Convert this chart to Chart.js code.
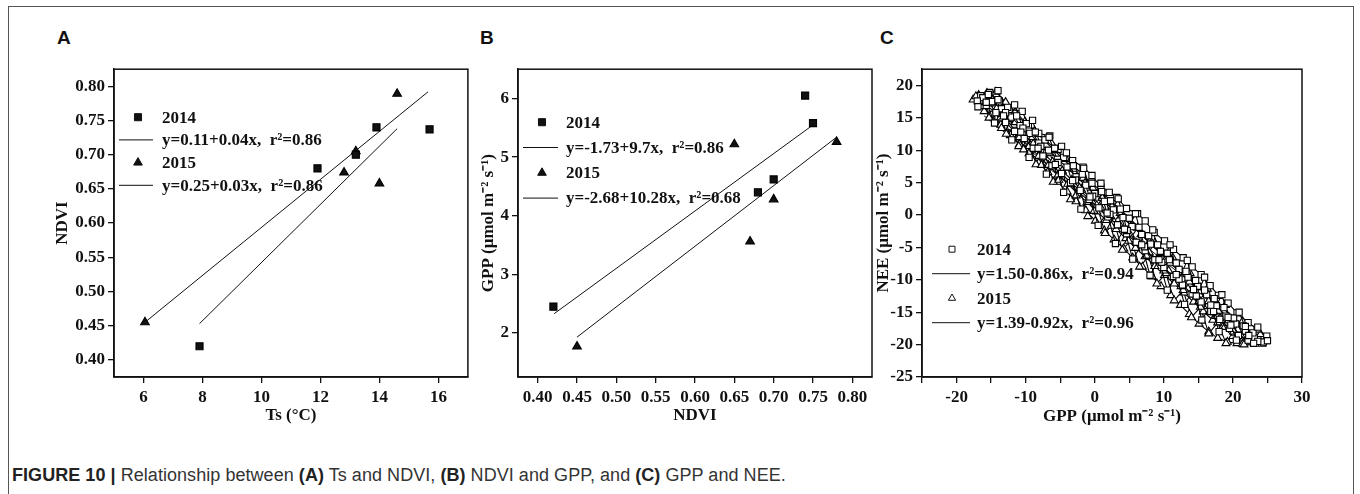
<!DOCTYPE html>
<html>
<head>
<meta charset="utf-8">
<script src="https://cdn.jsdelivr.net/npm/chart.js@4.4.1/dist/chart.umd.min.js"></script>
<style>
body{margin:0;background:#fff;width:1360px;height:494px;overflow:hidden;position:relative}
#frame{position:absolute;left:8px;top:6px;width:1344px;height:520px;border:1.5px solid #555}
.letter{position:absolute;top:27px;font:bold 19px 'Liberation Sans',Arial,sans-serif;color:#111}
canvas{position:absolute}
#caption{position:absolute;left:12px;top:465px;font:18px 'Liberation Sans',Arial,sans-serif;color:#333;white-space:nowrap;letter-spacing:0.05px}
#caption b{color:#222}
</style>
</head>
<body>
<div id="frame"></div>
<div class="letter" style="left:57px">A</div>
<div class="letter" style="left:480px">B</div>
<div class="letter" style="left:880px">C</div>
<canvas id="chartA" width="460" height="380" style="left:14px;top:56px"></canvas>
<canvas id="chartB" width="410" height="380" style="left:470px;top:56px"></canvas>
<canvas id="chartC" width="480" height="380" style="left:870px;top:56px"></canvas>
<div id="caption"><b>FIGURE 10 |</b> Relationship between <b>(A)</b> Ts and NDVI, <b>(B)</b> NDVI and GPP, and <b>(C)</b> GPP and NEE.</div>
<script>
// ---- panel A : Ts vs NDVI
const tsA2014 = [7.9, 11.9, 13.2, 13.9, 15.7]
const ndviA2014 = [0.42, 0.68, 0.70, 0.74, 0.737]
const tsA2015 = [6.05, 12.8, 13.2, 14.0, 14.6]
const ndviA2015 = [0.455, 0.674, 0.705, 0.658, 0.789]
const fitTsA2014 = [7.9, 14.6]
const fitNdviA2014 = [0.453, 0.738]
const fitTsA2015 = [6.05, 15.65]
const fitNdviA2015 = [0.455, 0.792]
const tsTicks = [6, 8, 10, 12, 14, 16]
const ndviTicksA = [0.40, 0.45, 0.50, 0.55, 0.60, 0.65, 0.70, 0.75, 0.80]
const legendA = ['2014', 'y=0.11+0.04x,  r\u00b2=0.86', '2015', 'y=0.25+0.03x,  r\u00b2=0.86']

// ---- panel B : NDVI vs GPP
const ndviB2014 = [0.42, 0.68, 0.70, 0.74, 0.75]
const gppB2014 = [2.45, 4.40, 4.62, 6.05, 5.58]
const ndviB2015 = [0.45, 0.67, 0.70, 0.65, 0.78]
const gppB2015 = [1.77, 3.56, 4.28, 5.22, 5.26]
const fitNdviB2014 = [0.421, 0.748]
const fitGppB2014 = [2.33, 5.53]
const fitNdviB2015 = [0.45, 0.779]
const fitGppB2015 = [1.93, 5.33]
const ndviTicksB = [0.40, 0.45, 0.50, 0.55, 0.60, 0.65, 0.70, 0.75, 0.80]
const gppTicksB = [2, 3, 4, 5, 6]
const legendB = ['2014', 'y=-1.73+9.7x,  r\u00b2=0.86', '2015', 'y=-2.68+10.28x,  r\u00b2=0.68']

// ---- panel C : GPP vs NEE (half-hourly)
const gppC2014 = [-16.5,-15.2,-13.8,-12.4,-10.5,-9.6,-8.1,-6.5,-5.3,-4.8,-3.2,-1.7,-0.4,0.9,2.1,3.2,4.6,6.2,7.3,8.6,10.1,11.4,12.8,14.1,15.4,16.7,17.9,19.3,20.6,22.2,23.5,24.9,
  24.4,23.1,21.8,20.4,19.0,17.6,16.2,14.9,13.5,12.2,10.8,9.5,8.1,6.8,5.4,4.1,2.7,1.4,0.0,-1.3,-2.7,-4.0,-5.4,-6.7,-8.1,-9.4,-10.8,-12.1,-13.5,-14.9,-16.2,
  -17.0,-15.7,-14.3,-12.9,-11.6,-10.2,-8.9,-7.5,-6.2,-4.8,-3.5,-2.1,-0.8,0.6,1.9,3.3,4.6,6.0,7.3,8.7,10.0,11.4,12.7,14.1,15.4,16.8,18.1,19.5,20.8,22.2,23.6,
  22.9,21.5,20.1,18.7,17.3,15.9,14.6,13.2,11.8,10.5,9.1,7.8,6.4,5.0,3.7,2.3,1.0,-0.4,-1.8,-3.1,-4.5,-5.8,-7.2,-8.6,-9.9,-11.3,-12.6,-14.0,-15.4,
  -14.0,-12.9,-11.6,-10.4,-9.0,-7.8,-6.6,-5.3,-4.1,-2.8,-1.6,-0.3,0.9,2.2,3.4,4.7,5.9,7.2,8.4,9.7,10.9,12.2,13.4,14.7,15.9,17.2,18.4,19.7,20.9,22.3,23.6,25.0,
  23.0,21.8,20.5,19.3,18.0,16.8,15.5,14.3,13.0,11.8,10.5,9.3,8.0,6.8,5.5,4.3,3.0,1.8,0.5,-0.7,-2.0,-3.2,-4.5,-5.7,-7.0,-8.2,-9.5,-10.7,-12.0,-13.2,-14.5,-15.7,-16.9]
const neeC2014 = [18.4,18.9,17.6,16.3,16.0,13.9,12.6,12.2,10.1,10.6,8.4,7.4,6.1,4.3,3.5,2.7,1.0,0.2,-0.9,-2.7,-4.0,-5.3,-6.6,-8.0,-9.2,-10.9,-12.4,-13.6,-15.1,-16.6,-17.6,-18.7,
  -19.6,-18.9,-17.9,-16.8,-15.6,-14.0,-12.3,-11.0,-9.6,-8.4,-6.9,-5.6,-4.5,-3.0,-1.8,-0.4,0.8,2.1,3.3,4.6,5.9,7.4,8.6,10.0,11.1,12.6,13.8,15.1,16.4,17.5,18.1,
  17.6,16.9,15.8,14.3,12.9,11.8,10.3,9.1,7.6,6.4,5.0,3.8,2.4,1.1,-0.3,-1.5,-2.9,-4.2,-5.5,-6.9,-8.1,-9.5,-10.8,-12.2,-13.4,-14.9,-16.1,-17.5,-18.6,-19.3,-19.5,
  -18.2,-17.1,-15.9,-14.3,-12.9,-11.6,-10.1,-8.7,-7.4,-5.9,-4.6,-3.2,-1.9,-0.5,0.9,2.2,3.6,4.9,6.3,7.6,8.9,10.3,11.6,12.8,14.1,15.3,16.6,17.8,18.6,
  19.2,15.8,17.0,13.4,14.6,10.6,12.0,8.1,9.6,5.4,7.2,2.9,4.9,0.1,2.5,-2.4,0.2,-4.9,-2.3,-7.3,-4.6,-9.9,-7.0,-12.5,-9.6,-14.9,-12.3,-17.0,-15.0,-18.6,-17.3,-19.4,
  -19.8,-17.2,-19.3,-15.8,-18.0,-13.9,-16.2,-11.5,-13.8,-9.2,-11.6,-6.9,-9.3,-4.6,-6.8,-2.2,-4.4,0.3,-1.6,2.8,0.9,5.3,3.5,7.8,6.3,10.3,8.9,12.8,11.6,15.3,14.2,17.4,16.7]
const gppC2015 = [-17.6,-16.4,-15.0,-13.6,-12.2,-10.9,-9.5,-8.1,-6.8,-5.4,-4.0,-2.7,-1.3,0.1,1.4,2.8,4.2,5.5,6.9,8.3,9.6,11.0,12.4,13.7,15.1,16.5,17.8,19.2,20.6,22.0,
  23.3,21.9,20.5,19.1,17.7,16.3,14.9,13.5,12.1,10.7,9.3,7.9,6.5,5.1,3.7,2.3,0.9,-0.5,-1.9,-3.3,-4.7,-6.1,-7.5,-8.9,-10.3,-11.7,-13.1,-14.5,-15.9,-16.8,
  -15.6,-14.3,-12.9,-11.5,-10.1,-8.7,-7.3,-5.9,-4.5,-3.1,-1.7,-0.3,1.1,2.5,3.9,5.3,6.7,8.1,9.5,10.9,12.3,13.7,15.1,16.5,17.9,19.3,20.7,22.1,23.5,24.7,
  21.4,20.0,18.5,17.1,15.7,14.3,12.9,11.5,10.1,8.7,7.3,5.9,4.5,3.1,1.7,0.3,-1.1,-2.5,-3.9,-5.3,-6.7,-8.1,-9.5,-10.9,-12.3,-13.7,-15.1,-16.5,
  -17.2,-16.0,-14.7,-13.5,-12.2,-11.0,-9.7,-8.5,-7.2,-6.0,-4.7,-3.5,-2.2,-1.0,0.3,1.5,2.8,4.0,5.3,6.5,7.8,9.0,10.3,11.5,12.8,14.0,15.3,16.5,17.8,19.0,20.3,21.6,22.9,24.2,
  24.0,22.7,21.4,20.1,18.9,17.6,16.3,15.1,13.8,12.5,11.3,10.0,8.7,7.5,6.2,4.9,3.7,2.4,1.1,-0.1,-1.4,-2.7,-3.9,-5.2,-6.5,-7.7,-9.0,-10.3,-11.5,-12.8,-14.1,-15.3,-16.2]
const neeC2015 = [17.8,16.8,15.5,13.9,12.3,10.9,9.5,8.0,6.6,5.1,3.6,2.1,0.7,-0.9,-2.4,-3.8,-5.2,-6.6,-8.0,-9.5,-11.0,-12.4,-13.9,-15.3,-16.8,-18.0,-19.0,-19.6,-19.8,-19.7,
  -19.4,-18.6,-17.6,-16.7,-15.4,-14.1,-12.7,-11.4,-10.0,-8.6,-7.2,-5.8,-4.5,-3.0,-1.7,-0.2,1.1,2.6,3.9,5.4,6.8,8.2,9.6,11.0,12.5,13.9,15.3,16.7,17.9,18.5,
  18.8,19.0,17.4,15.9,14.4,13.0,11.5,10.0,8.6,7.1,5.7,4.2,2.8,1.3,-0.1,-1.6,-3.0,-4.5,-5.9,-7.4,-8.8,-10.3,-11.8,-13.3,-14.8,-16.3,-17.7,-18.8,-19.6,-19.5,
  -19.9,-18.7,-17.3,-16.2,-14.9,-13.4,-12.0,-10.6,-9.3,-7.9,-6.4,-5.1,-3.6,-2.2,-0.8,0.5,2.0,3.3,4.8,6.2,7.7,9.1,10.6,12.0,13.5,14.9,16.4,17.4,
  18.3,16.0,17.2,13.4,14.8,10.6,12.2,7.8,9.5,5.1,6.8,2.4,4.2,-0.2,1.5,-2.8,-1.1,-5.4,-3.8,-8.0,-6.4,-10.6,-9.0,-13.2,-11.6,-15.8,-14.2,-18.3,-16.6,-19.8,-18.2,-20.0,-19.0,-19.9,
  -18.4,-19.6,-16.4,-18.0,-13.9,-15.6,-11.4,-13.3,-9.0,-11.0,-6.6,-8.6,-4.3,-6.3,-2.0,-4.0,0.3,-1.7,2.6,0.6,4.9,3.0,7.3,5.4,9.6,7.7,12.0,10.1,14.3,12.5,16.6,15.0,18.0]
const fitGppC2014 = [-16, 22]
const fitNeeC2014 = [15.3, -17.4]
const fitGppC2015 = [-16, 22]
const fitNeeC2015 = [16.1, -18.85]
const gppTicksC = [-25, -20, -15, -10, -5, 0, 5, 10, 15, 20, 25, 30]
const neeTicksC = [-25, -20, -15, -10, -5, 0, 5, 10, 15, 20]
const legendC = ['2014', 'y=1.50-0.86x,  r\u00b2=0.94', '2015', 'y=1.39-0.92x,  r\u00b2=0.96']


const SERIF = "'Liberation Serif', 'Times New Roman', serif"
Chart.defaults.font.family = SERIF
Chart.defaults.color = '#111'

function pts(xs, ys) {
  return xs.map((x, i) => ({ x: x, y: ys[i] }))
}

// frame around the plotting area
const boxPlugin = {
  id: 'plotBox',
  afterDraw(chart) {
    const a = chart.chartArea
    const ctx = chart.ctx
    ctx.save()
    ctx.strokeStyle = '#111'
    ctx.lineWidth = 1.5
    ctx.strokeRect(a.left, a.top, a.right - a.left, a.bottom - a.top)
    ctx.restore()
  }
}

function marker(ctx, kind, x, y, r, fill) {
  ctx.beginPath()
  if (kind === 'rect') {
    const s = r * Math.SQRT1_2
    ctx.rect(x - s, y - s, 2 * s, 2 * s)
  } else {
    ctx.moveTo(x, y - r)
    ctx.lineTo(x + r * 0.866, y + r * 0.5)
    ctx.lineTo(x - r * 0.866, y + r * 0.5)
    ctx.closePath()
  }
  ctx.fillStyle = fill
  ctx.fill()
  ctx.stroke()
}

// legend stacked inside the plot: marker row, fit-line row, marker row, fit-line row
const legendPlugin = {
  id: 'rowLegend',
  afterDatasetsDraw(chart, args, opts) {
    if (!opts.rows) return
    const a = chart.chartArea
    const ctx = chart.ctx
    ctx.save()
    ctx.font = 'bold 17px ' + SERIF
    ctx.textBaseline = 'middle'
    ctx.strokeStyle = '#111'
    ctx.lineWidth = 1
    opts.rows.forEach((txt, i) => {
      const y = a.top + opts.y + i * opts.gap
      if (i % 2 === 0) {
        marker(ctx, i === 0 ? 'rect' : 'tri', a.left + opts.markX, y, opts.r, opts.fill)
      } else {
        ctx.beginPath()
        ctx.moveTo(a.left + opts.lineFrom, y)
        ctx.lineTo(a.left + opts.lineTo, y)
        ctx.stroke()
      }
      ctx.fillStyle = '#111'
      ctx.fillText(txt, a.left + opts.textX, y + 1)
    })
    ctx.restore()
  }
}

function axis(min, max, tickVals, fmt, title, size, titlePad, isX) {
  return {
    type: 'linear',
    min: min,
    max: max,
    afterBuildTicks: (ax) => { ax.ticks = tickVals.map(v => ({ value: v })) },
    afterFit: (ax) => { if (isX) ax.height = size; else ax.width = size },
    grid: { drawOnChartArea: false, drawTicks: true, tickLength: 6, color: '#111', lineWidth: 1.3 },
    border: { display: true, color: '#111', width: 1.5 },
    ticks: {
      autoSkip: false, maxRotation: 0, padding: isX ? 4 : 3,
      font: { size: 17, weight: 'bold' }, color: '#111',
      callback: fmt
    },
    title: { display: true, text: title, font: { size: 17, weight: 'bold' }, color: '#111', padding: titlePad }
  }
}

function scatterSet(data, style, r, fill, line) {
  return {
    data: data,
    pointStyle: style,
    pointRadius: r,
    pointBackgroundColor: fill,
    pointBorderColor: '#000',
    pointBorderWidth: 1.1,
    showLine: line,
    borderColor: '#000',
    borderWidth: 1.1,
    tension: 0
  }
}

function fitSet(data) {
  return { data: data, showLine: true, pointRadius: 0, borderColor: '#111', borderWidth: 1, tension: 0 }
}

function makeChart(id, datasets, x, y, legend, pad) {
  return new Chart(document.getElementById(id), {
    type: 'scatter',
    data: { datasets: datasets },
    options: {
      responsive: false,
      animation: false,
      devicePixelRatio: 1,
      layout: { padding: pad },
      plugins: { legend: { display: false }, tooltip: { enabled: false }, rowLegend: legend },
      scales: { x: x, y: y }
    },
    plugins: [boxPlugin, legendPlugin]
  })
}

// A
makeChart('chartA', [
  scatterSet(pts(tsA2014, ndviA2014), 'rect', 5, '#111', false),
  scatterSet(pts(tsA2015, ndviA2015), 'triangle', 5, '#111', false),
  fitSet(pts(fitTsA2014, fitNdviA2014)),
  fitSet(pts(fitTsA2015, fitNdviA2015))
],
  axis(5, 17, tsTicks, v => v, 'Ts (\u00b0C)', 59, { bottom: 10 }, true),
  axis(0.375, 0.825, ndviTicksA, v => v.toFixed(2), 'NDVI', 100, { top: 38 }, false),
  { rows: legendA, y: 48, gap: 22.7, markX: 24, lineFrom: 5, lineTo: 39, textX: 48, r: 5, fill: '#111' },
  { top: 8, right: 6, left: 0, bottom: 0 })

// B
makeChart('chartB', [
  scatterSet(pts(ndviB2014, gppB2014), 'rect', 5, '#111', false),
  scatterSet(pts(ndviB2015, gppB2015), 'triangle', 5, '#111', false),
  fitSet(pts(fitNdviB2014, fitGppB2014)),
  fitSet(pts(fitNdviB2015, fitGppB2015))
],
  axis(0.375, 0.825, ndviTicksB, v => v.toFixed(2), 'NDVI', 59, { bottom: 10 }, true),
  axis(1.25, 6.5, gppTicksB, v => v, 'GPP (\u03bcmol m\u207b\u00b2 s\u207b\u00b9)', 48, { top: 8 }, false),
  { rows: legendB, y: 53, gap: 25.3, markX: 24, lineFrom: 5, lineTo: 40, textX: 48, r: 5, fill: '#111' },
  { top: 8, right: 8, left: 0, bottom: 0 })

// C
makeChart('chartC', [
  scatterSet(pts(gppC2014, neeC2014), 'rect', 4.4, '#fff', true),
  scatterSet(pts(gppC2015, neeC2015), 'triangle', 4.6, '#fff', true),
  fitSet(pts(fitGppC2014, fitNeeC2014)),
  fitSet(pts(fitGppC2015, fitNeeC2015))
],
  axis(-25, 30, gppTicksC, v => (v % 10 === 0 ? v : ''), 'GPP (\u03bcmol m\u207b\u00b2 s\u207b\u00b9)', 59, { bottom: 9 }, true),
  axis(-25, 22.5, neeTicksC, v => v, 'NEE (\u03bcmol m\u207b\u00b2 s\u207b\u00b9)', 52, { top: 3 }, false),
  { rows: legendC, y: 180, gap: 24.5, markX: 30, lineFrom: 10, lineTo: 48, textX: 55, r: 4.2, fill: '#fff' },
  { top: 8, right: 48, left: 0, bottom: 0 })
</script>
</body>
</html>
